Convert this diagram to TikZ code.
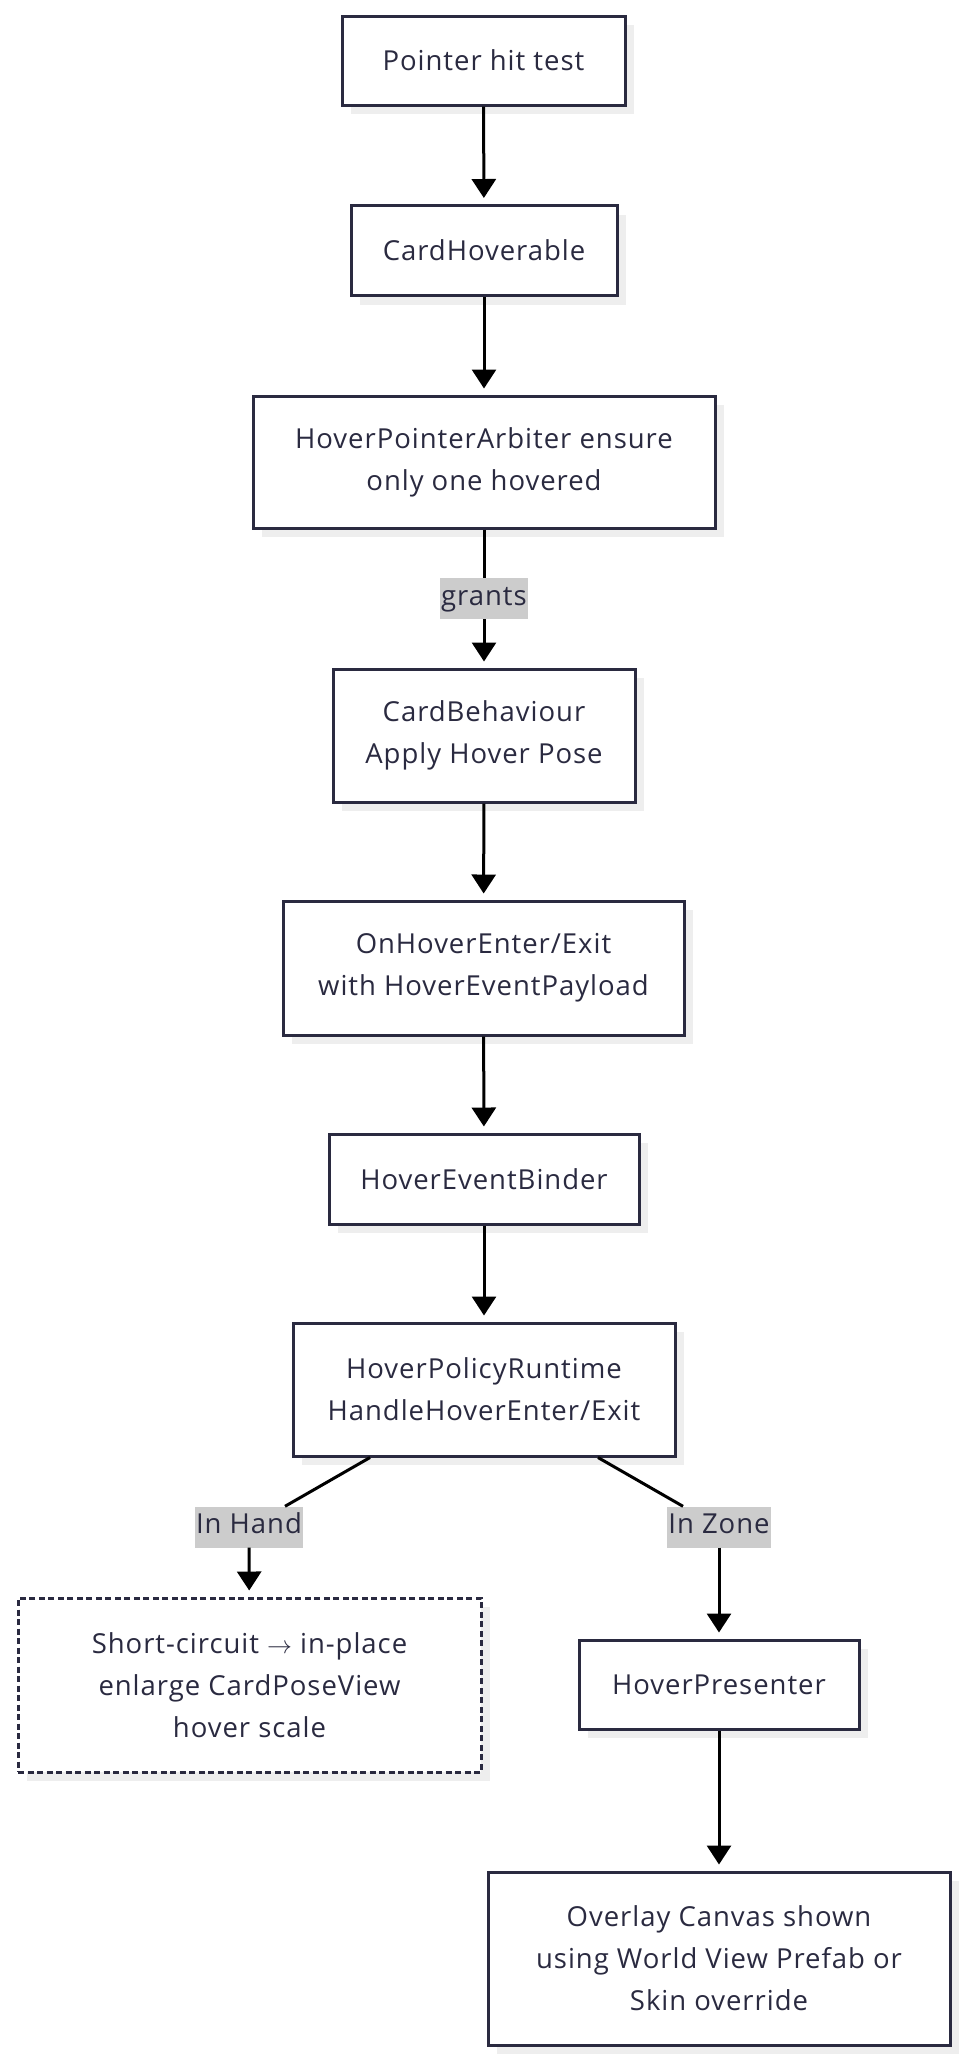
\documentclass[tikz,border=0pt]{standalone}
\usepackage{fontspec}
\setmainfont[LetterSpace=3.5]{Open Sans}
\usetikzlibrary{arrows.meta,shadows,calc}
\definecolor{boxline}{RGB}{42,42,64}
\definecolor{txt}{RGB}{42,42,64}
\definecolor{lblgray}{RGB}{204,204,204}
\definecolor{shadowgray}{RGB}{238,238,238}
\tikzset{
  flowbox/.style={draw=boxline, line width=3pt, fill=white, inner sep=0pt,
    align=center, text=txt, font=\fontsize{27.5pt}{42pt}\selectfont,
    drop shadow={shadow xshift=9pt, shadow yshift=-9pt, fill=shadowgray, opacity=1}},
  dashbox/.style={flowbox, dash pattern=on 6pt off 3.5pt},
  lbl/.style={fill=lblgray, text=txt, inner xsep=1pt, inner ysep=0pt,
    minimum height=41pt, text height=20pt, text depth=7pt,
    font=\fontsize{27.5pt}{42pt}\selectfont},
  conn/.style={line width=3pt, draw=black},
  arr/.style={conn, -{Triangle[width=24pt,length=19pt]}, shorten >=6pt},
}
\begin{document}
\begin{tikzpicture}[x=1pt,y=-1pt]
\useasboundingbox (0,0) rectangle (968,2062);
\node[flowbox, minimum width=283pt, minimum height=89pt] (hit) at (483.5,60.5) {Pointer hit test};
\node[flowbox, minimum width=266pt, minimum height=90pt] (hov) at (484,250.5) {CardHoverable};
\node[flowbox, minimum width=462pt, minimum height=132pt] (arb) at (484,462) {HoverPointerArbiter ensure\\only one hovered};
\node[flowbox, minimum width=302pt, minimum height=133pt] (beh) at (484,735.5) {CardBehaviour\\Apply Hover Pose};
\node[flowbox, minimum width=401pt, minimum height=134pt] (evt) at (483.5,968) {OnHoverEnter/Exit\\with HoverEventPayload};
\node[flowbox, minimum width=310pt, minimum height=90pt] (bind) at (484,1179) {HoverEventBinder};
\node[flowbox, minimum width=382pt, minimum height=133pt] (pol) at (484,1389.5) {HoverPolicyRuntime\\HandleHoverEnter/Exit};
\node[dashbox, minimum width=463pt, minimum height=174pt] (short) at (249.5,1685) {Short-circuit $\rightarrow$ in-place\\enlarge CardPoseView\\hover scale};
\node[flowbox, minimum width=280pt, minimum height=89pt] (pres) at (719,1684.5) {HoverPresenter};
\node[flowbox, minimum width=462pt, minimum height=173pt] (over) at (719,1958.5) {Overlay Canvas shown\\using World View Prefab or\\Skin override};

\node[lbl] (grants) at (484,598.5) {grants};
\node[lbl] (inhand) at (249,1527) {In Hand};
\node[lbl] (inzone) at (719,1527) {In Zone};

\coordinate (pl) at ($(pol.south)+(-114,0)$);
\coordinate (pr) at ($(pol.south)+(114,0)$);

\draw[arr] (hit) -- (hov);
\draw[arr] (hov) -- (arb);
\draw[conn] (arb) -- (grants);
\draw[arr] (grants) -- (beh);
\draw[arr] (beh) -- (evt);
\draw[arr] (evt) -- (bind);
\draw[arr] (bind) -- (pol);
\draw[conn] (pl) -- (inhand);
\draw[arr] (inhand) -- (short);
\draw[conn] (pr) -- (inzone);
\draw[arr] (inzone) -- (pres);
\draw[arr] (pres) -- (over);
\end{tikzpicture}
\end{document}
